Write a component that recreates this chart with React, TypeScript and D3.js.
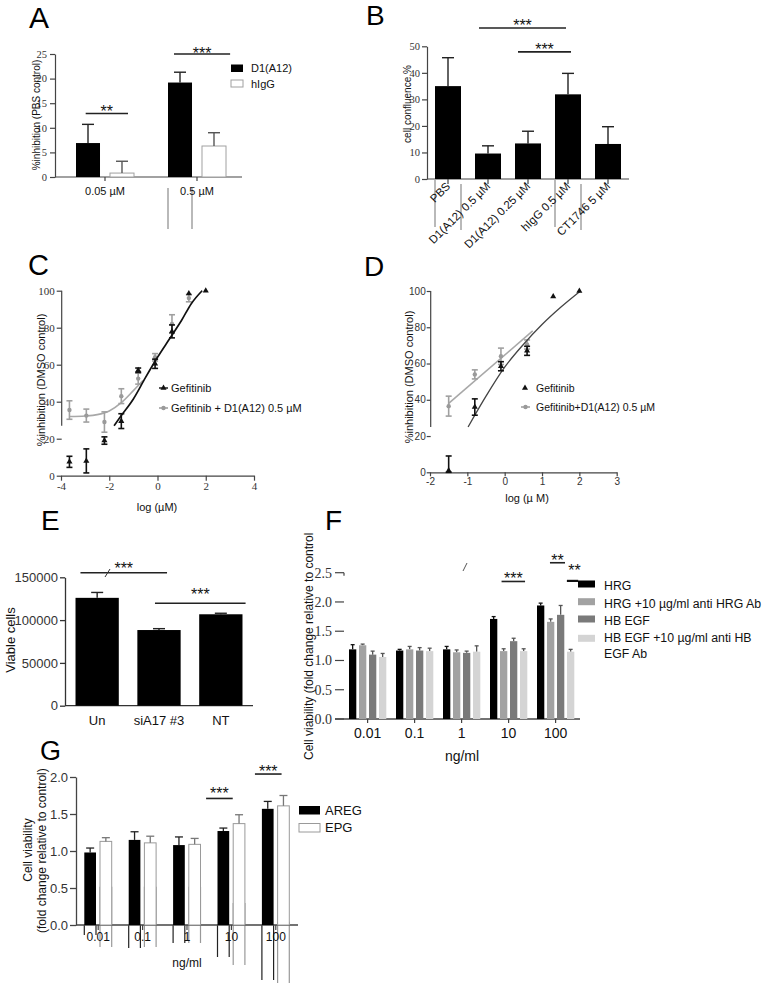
import React, { useEffect, useRef } from 'react';
import * as d3 from 'd3';

const SANS = '"Liberation Sans", Arial, Helvetica, sans-serif';
const SERIF = '"Liberation Serif", "Times New Roman", serif';

// ---- A: %inhibition (PBS control)
const aGroups = ['0.05 µM', '0.5 µM'];
const aSeries = ['D1(A12)', 'hIgG'];
const aD1 = [6.9, 19.2];
const aD1Err = [3.8, 2.1];
const aIgG = [0.8, 6.3];
const aIgGErr = [2.4, 2.7];

// ---- B: cell confluence %
const bLabels = ['PBS', 'D1(A12) 0.5 µM', 'D1(A12) 0.25 µM', 'hIgG 0.5 µM', 'CT1746 5 µM'];
const bValues = [35.0, 9.6, 13.4, 31.9, 13.2];
const bErr = [10.7, 2.9, 4.6, 7.9, 6.5];

// ---- C: dose response, log(µM)
const cDoses = [-3.65, -2.95, -2.2, -1.5, -0.8, -0.1, 0.6, 1.3, 2.0];
const cGef = [7.5, 8, 19, 29.5, 57, 60.5, 78, 98.5, 100];
const cGefErr = [3, 6.5, 2, 4, 1.2, 2.5, 3.5, 0, 0];
const cCombo = [35.5, 32.5, 29, 43, 52.5, 64, 82, 96];
const cComboErr = [5, 3.5, 5.5, 4, 3, 2, 5, 2];
const cGefFit: [number, number][] = [[-1.8, 27], [-1.5, 32.5], [-1.0, 41.5], [-0.5, 53], [0, 64], [0.5, 74], [1.0, 84], [1.4, 93], [1.85, 100]];
const cComboFit: [number, number][] = [[-3.65, 32], [-3, 32.3], [-2.5, 33], [-2, 35], [-1.5, 39.5], [-1, 46], [-0.6, 51.5]];

// ---- D: dose response, log(µM)
const dDoses = [-1.5, -0.8, -0.1, 0.6, 1.3, 2.0];
const dGef = [1, 36, 58.5, 67, 97, 100];
const dGefErr = [8, 4.5, 2.5, 2.5, 0, 0];
const dCombo = [36.5, 54, 64, 70.5];
const dComboErr = [5.5, 2.5, 4.5, 2.5];
const dGefFit: [number, number][] = [[-0.98, 25], [-0.5, 42], [0, 58], [0.5, 70.5], [1, 81.5], [1.5, 91], [2.03, 100]];
const dComboFit: [number, number][] = [[-1.5, 38], [0.75, 78]];

// ---- E: viable cells
const eLabels = ['Un', 'siA17 #3', 'NT'];
const eValues = [126000, 88400, 106800];
const eErr = [6300, 1600, 1200];

// ---- F: cell viability, ng/ml
const fGroups = ['0.01', '0.1', '1', '10', '100'];
const fSeries = ['HRG', 'HRG +10 µg/ml anti HRG Ab', 'HB EGF', 'HB EGF +10 µg/ml anti HB EGF Ab'];
const fHRG = [1.19, 1.17, 1.19, 1.71, 1.94];
const fHRGErr = [0.08, 0.02, 0.05, 0.04, 0.04];
const fHRGAb = [1.26, 1.19, 1.14, 1.16, 1.66];
const fHRGAbErr = [0.02, 0.05, 0.04, 0.04, 0.05];
const fHBEGF = [1.10, 1.17, 1.13, 1.33, 1.78];
const fHBEGFErr = [0.06, 0.05, 0.03, 0.05, 0.16];
const fHBEGFAb = [1.06, 1.16, 1.15, 1.16, 1.15];
const fHBEGFAbErr = [0.06, 0.05, 0.10, 0.04, 0.04];
const fColors = ['#000000', '#a2a2a2', '#7a7a7a', '#d4d4d4'];

// ---- G: cell viability, ng/ml
const gGroups = ['0.01', '0.1', '1', '10', '100'];
const gSeries = ['AREG', 'EPG'];
const gAREG = [0.98, 1.15, 1.08, 1.27, 1.57];
const gAREGErr = [0.06, 0.11, 0.11, 0.04, 0.10];
const gEPG = [1.13, 1.11, 1.09, 1.37, 1.61];
const gEPGErr = [0.05, 0.09, 0.08, 0.12, 0.14];

type Sel = d3.Selection<SVGGElement, unknown, null, undefined>;

function line(g: Sel, x1: number, y1: number, x2: number, y2: number, stroke = '#222', w = 1.2) {
  g.append('line').attr('x1', x1).attr('y1', y1).attr('x2', x2).attr('y2', y2)
    .attr('stroke', stroke).attr('stroke-width', w);
}

function txt(g: Sel, x: number, y: number, s: string, size: number, opts: any = {}) {
  return g.append('text').attr('x', x).attr('y', y)
    .attr('font-family', opts.font || SANS).attr('font-size', size)
    .attr('fill', opts.fill || '#111').attr('text-anchor', opts.anchor || 'start').text(s);
}

function vtxt(g: Sel, x: number, y: number, s: string, size: number, anchor = 'middle') {
  g.append('text').attr('transform', `translate(${x},${y}) rotate(-90)`)
    .attr('font-family', SANS).attr('font-size', size).attr('fill', '#111')
    .attr('text-anchor', anchor).text(s);
}

function errUp(g: Sel, x: number, y0: number, y1: number, cap: number, stroke = '#111', w = 1.4) {
  line(g, x, y0, x, y1, stroke, w);
  line(g, x - cap / 2, y1, x + cap / 2, y1, stroke, w);
}

function errBoth(g: Sel, x: number, yLo: number, yHi: number, cap: number, stroke: string, w = 1.5) {
  line(g, x, yLo, x, yHi, stroke, w);
  line(g, x - cap / 2, yLo, x + cap / 2, yLo, stroke, w);
  line(g, x - cap / 2, yHi, x + cap / 2, yHi, stroke, w);
}

function sig(g: Sel, x1: number, x2: number, y: number, s: string, dy: number, size = 16) {
  line(g, x1, y, x2, y, '#222', 1.6);
  txt(g, (x1 + x2) / 2, y + dy, s, size, { anchor: 'middle' });
}

function styleAxis(a: Sel, font: string, size: number, color = '#333', w = 1.2) {
  a.attr('font-family', font).attr('font-size', size);
  a.selectAll('.domain').attr('stroke', color).attr('stroke-width', w);
  a.selectAll('.tick line').attr('stroke', color).attr('stroke-width', w);
  a.selectAll('.tick text').attr('fill', '#333');
}

function panelLetter(g: Sel, x: number, y: number, s: string, size = 29) {
  txt(g, x, y, s, size, { fill: '#000' });
}

function drawA(g: Sel) {
  const x0 = d3.scaleBand<string>().domain(aGroups).range([59, 243]);
  const x1 = d3.scaleBand<string>().domain(aSeries).range([17, 75]).paddingInner(0.294);
  const y = d3.scaleLinear().domain([0, 25]).range([177, 54]);
  const bw = x1.bandwidth();

  panelLetter(g, 29, 28, 'A', 30);

  // scan artefact: bar edges run below the axis
  const ex = x0(aGroups[1])! + x1(aSeries[0])!;
  [ex, ex + bw].forEach(px => line(g, px, 188, px, 229, '#8a8a8a', 1.2));

  const ya = g.append('g').attr('transform', 'translate(55,0)')
    .call(d3.axisLeft(y).tickValues([0, 5, 10, 15, 20, 25]).tickSize(5).tickSizeOuter(0).tickPadding(3)) as any;
  styleAxis(ya, SERIF, 10.5, '#444');
  line(g, 55, y(0), 242, y(0), '#444', 1.2);
  aGroups.forEach(k => {
    const cx = x0(k)! + x0.bandwidth() / 2;
    line(g, cx, y(0), cx, y(0) + 4, '#444', 1.2);
    txt(g, cx, 195, k, 11, { anchor: 'middle' });
  });

  aGroups.forEach((k, i) => {
    const xa = x0(k)! + x1(aSeries[0])!;
    errUp(g, xa + bw / 2, y(aD1[i]), y(aD1[i] + aD1Err[i]), 12, '#222', 1.4);
    g.append('rect').attr('x', xa).attr('y', y(aD1[i])).attr('width', bw)
      .attr('height', y(0) - y(aD1[i])).attr('fill', '#000');
    const xb = x0(k)! + x1(aSeries[1])!;
    g.append('rect').attr('x', xb).attr('y', y(aIgG[i])).attr('width', bw)
      .attr('height', y(0) - y(aIgG[i])).attr('fill', '#fff').attr('stroke', '#a0a0a0').attr('stroke-width', 1);
    errUp(g, xb + bw / 2, y(aIgG[i]), y(aIgG[i] + aIgGErr[i]), 12, '#555', 1.4);
  });

  const step = x0.step();
  sig(g, x0(aGroups[0])! + 0.29 * step, x0(aGroups[0])! + 0.75 * step, y(12.9), '**', 3.5);
  sig(g, x0(aGroups[1])! + 0.25 * step, x0(aGroups[1])! + 0.86 * step, y(25), '***', 5);

  // legend
  g.append('rect').attr('x', 231).attr('y', 64.5).attr('width', 12).attr('height', 7.5).attr('fill', '#000');
  txt(g, 251, 72, aSeries[0], 11);
  g.append('rect').attr('x', 231).attr('y', 80).attr('width', 12).attr('height', 7)
    .attr('fill', '#fff').attr('stroke', '#a0a0a0').attr('stroke-width', 1);
  txt(g, 251, 88, aSeries[1], 11);

  vtxt(g, 40, 115, '%inhibition (PBS control)', 10);
}

function drawB(g: Sel) {
  const x = d3.scaleBand<string>().domain(bLabels).range([427, 629]).paddingInner(0.35).paddingOuter(0.2);
  const y = d3.scaleLinear().domain([0, 50]).range([179, 46.3]);
  const bw = x.bandwidth();

  panelLetter(g, 366, 25, 'B', 28);

  // scan artefact lines under PBS and hIgG bars
  [bLabels[0], bLabels[3]].forEach(k => {
    line(g, x(k)!, 180, x(k)!, 227, '#8a8a8a', 1.2);
    line(g, x(k)! + bw, 184, x(k)! + bw, 230, '#8a8a8a', 1.2);
  });

  const ya = g.append('g').attr('transform', 'translate(427,0)')
    .call(d3.axisLeft(y).tickValues([0, 10, 20, 30, 40, 50]).tickSize(5).tickSizeOuter(0).tickPadding(2)) as any;
  styleAxis(ya, SERIF, 10.5, '#444');
  line(g, 427, y(0), 629, y(0), '#444', 1.2);

  bLabels.forEach((k, i) => {
    const cx = x(k)! + bw / 2;
    errUp(g, cx, y(bValues[i]), y(bValues[i] + bErr[i]), 12, '#222', 1.4);
    g.append('rect').attr('x', x(k)!).attr('y', y(bValues[i])).attr('width', bw)
      .attr('height', y(0) - y(bValues[i])).attr('fill', '#000');
    line(g, cx, y(0), cx, y(0) + 5, '#444', 1.2);
    g.append('text').attr('transform', `translate(${cx + 3},${187}) rotate(-45)`)
      .attr('text-anchor', 'end').attr('font-family', SANS).attr('font-size', 11.5)
      .attr('fill', '#111').text(k);
  });

  const cx = (i: number) => x(bLabels[0])! + bw / 2 + i * x.step();
  sig(g, cx(0.775), cx(2.95), y(56.9), '***', 3);
  sig(g, cx(1.75), cx(3.075), y(47.9), '***', 3);

  vtxt(g, 411, 104, 'cell confluence %', 10);
}

function drawC(g: Sel) {
  const x = d3.scaleLinear().domain([-4, 4]).range([61, 254]);
  const y = d3.scaleLinear().domain([0, 100]).range([475.7, 290.7]);

  panelLetter(g, 28, 275, 'C', 29);

  const xa = g.append('g').attr('transform', `translate(0,${y(0)})`)
    .call(d3.axisBottom(x).tickValues([-4, -2, 0, 2, 4]).tickFormat((d: any) => String(d)).tickSize(5).tickSizeOuter(0).tickPadding(2)) as any;
  styleAxis(xa, SERIF, 11, '#444');
  const ya = g.append('g').attr('transform', `translate(${x(-4) + 0.7},0)`)
    .call(d3.axisLeft(y).tickValues([0, 20, 40, 60, 80, 100]).tickSize(5).tickSizeOuter(0).tickPadding(2)) as any;
  styleAxis(ya, SERIF, 11, '#444');
  ya.select('.domain').remove();
  line(g, x(-4) + 0.7, y(100), x(-4) + 0.7, y(27), '#444', 1.2);

  const path = d3.line<[number, number]>().x(d => x(d[0])).y(d => y(d[1])).curve(d3.curveMonotoneX);
  g.append('path').attr('d', path(cComboFit)).attr('fill', 'none').attr('stroke', '#a8a8a8').attr('stroke-width', 1.6);

  cCombo.forEach((v, i) => {
    const px = x(cDoses[i]);
    if (cComboErr[i] > 0) errBoth(g, px, y(v - cComboErr[i]), y(v + cComboErr[i]), 6, '#a0a0a0', 1.6);
    g.append('circle').attr('cx', px).attr('cy', y(v)).attr('r', 2.2).attr('fill', '#9a9a9a');
  });

  g.append('path').attr('d', path(cGefFit)).attr('fill', 'none').attr('stroke', '#111').attr('stroke-width', 1.7);
  const tri = d3.symbol().type(d3.symbolTriangle).size(16);
  cGef.forEach((v, i) => {
    const px = x(cDoses[i]);
    if (cGefErr[i] > 0) errBoth(g, px, y(v - cGefErr[i]), y(v + cGefErr[i]), 6, '#111', 1.6);
    g.append('path').attr('d', tri()).attr('transform', `translate(${px},${y(v)})`).attr('fill', '#111');
  });

  // legend
  line(g, 159, 388, 168, 388, '#111', 1.4);
  g.append('path').attr('d', tri()).attr('transform', 'translate(163.5,388)').attr('fill', '#111');
  txt(g, 171, 392, 'Gefitinib', 11);
  line(g, 159, 408, 168, 408, '#a0a0a0', 1.6);
  g.append('circle').attr('cx', 163.5).attr('cy', 408).attr('r', 2.2).attr('fill', '#9a9a9a');
  txt(g, 171, 412, 'Gefitinib + D1(A12) 0.5 µM', 11);

  vtxt(g, 45, 380, '%inhibition (DMSO control)', 11);
  txt(g, 157, 511, 'log (µM)', 11, { anchor: 'middle' });
}

function drawD(g: Sel) {
  const x = d3.scaleLinear().domain([-2, 3]).range([430, 616.7]);
  const y = d3.scaleLinear().domain([0, 100]).range([472.3, 291]);

  panelLetter(g, 364, 276, 'D', 28);

  const xa = g.append('g').attr('transform', `translate(0,${y(0)})`)
    .call(d3.axisBottom(x).tickValues([-2, -1, 0, 1, 2, 3]).tickFormat((d: any) => String(d)).tickSize(4).tickSizeOuter(0).tickPadding(2)) as any;
  styleAxis(xa, SANS, 10, '#444');
  const ya = g.append('g').attr('transform', `translate(${x(-2) + 0.7},0)`)
    .call(d3.axisLeft(y).tickValues([0, 20, 40, 60, 80, 100]).tickSize(4).tickSizeOuter(0).tickPadding(1)) as any;
  styleAxis(ya, SANS, 10, '#444');
  ya.select('.domain').remove();
  line(g, x(-2) + 0.7, y(100), x(-2) + 0.7, y(25), '#444', 1.2);

  const path = d3.line<[number, number]>().x(d => x(d[0])).y(d => y(d[1])).curve(d3.curveMonotoneX);
  g.append('path').attr('d', path(dComboFit)).attr('fill', 'none').attr('stroke', '#a8a8a8').attr('stroke-width', 1.6);
  dCombo.forEach((v, i) => {
    const px = x(dDoses[i]);
    errBoth(g, px, y(v - dComboErr[i]), y(v + dComboErr[i]), 6, '#a0a0a0', 1.6);
    g.append('circle').attr('cx', px).attr('cy', y(v)).attr('r', 2.2).attr('fill', '#9a9a9a');
  });

  g.append('path').attr('d', path(dGefFit)).attr('fill', 'none').attr('stroke', '#444').attr('stroke-width', 1.3);
  const tri = d3.symbol().type(d3.symbolTriangle).size(16);
  dGef.forEach((v, i) => {
    const px = x(dDoses[i]);
    if (dGefErr[i] > 0) errBoth(g, px, y(Math.max(0, v - dGefErr[i])), y(v + dGefErr[i]), 6, '#111', 1.6);
    g.append('path').attr('d', tri()).attr('transform', `translate(${px},${y(v)})`).attr('fill', '#111');
  });

  g.append('path').attr('d', tri()).attr('transform', 'translate(525,388)').attr('fill', '#111');
  txt(g, 536, 392, 'Gefitinib', 10.5);
  line(g, 521, 407, 530, 407, '#a0a0a0', 1.6);
  g.append('circle').attr('cx', 525.5).attr('cy', 407).attr('r', 2.2).attr('fill', '#9a9a9a');
  txt(g, 536, 411, 'Gefitinib+D1(A12) 0.5 µM', 10.5);

  vtxt(g, 413, 377, '%inhibition (DMSO control)', 11);
  txt(g, 527, 502, 'log (µ M)', 11, { anchor: 'middle' });
}

function drawE(g: Sel) {
  const x = d3.scaleBand<string>().domain(eLabels).range([65, 253]).paddingInner(0.3).paddingOuter(0.17);
  const y = d3.scaleLinear().domain([0, 150000]).range([705.7, 577.3]);
  const bw = x.bandwidth();

  panelLetter(g, 41, 530, 'E', 28);

  const ya = g.append('g').attr('transform', 'translate(65,0)')
    .call(d3.axisLeft(y).tickValues([0, 50000, 100000, 150000]).tickFormat(d3.format('d')).tickSize(5).tickSizeOuter(0).tickPadding(2)) as any;
  styleAxis(ya, SANS, 13, '#333', 1.3);
  line(g, 65, y(0), 253, y(0), '#333', 1.3);

  eLabels.forEach((k, i) => {
    const cx = x(k)! + bw / 2;
    errUp(g, cx, y(eValues[i]), y(eValues[i] + eErr[i]), 12, '#222', 1.4);
    g.append('rect').attr('x', x(k)!).attr('y', y(eValues[i])).attr('width', bw)
      .attr('height', y(0) - y(eValues[i])).attr('fill', '#000');
    txt(g, cx, 725, k, 13, { anchor: 'middle' });
  });

  const cx = (i: number) => x(eLabels[0])! + bw / 2 + i * x.step();
  sig(g, cx(-0.27), cx(1.13), y(155370), '***', 1.5);
  line(g, 105, 577, 110, 569, '#333', 1);
  sig(g, cx(0.935), cx(2.4), y(119630), '***', -3);

  vtxt(g, 15, 640, 'Viable cells', 13);
}

function drawF(g: Sel) {
  const x0 = d3.scaleBand<string>().domain(fGroups).range([347, 582]);
  const x1 = d3.scaleBand<string>().domain(fSeries).range([2, 39.3]).paddingInner(0.27);
  const y = d3.scaleLinear().domain([0, 2.5]).range([719, 572.7]);
  const bw = x1.bandwidth();
  const vals = [fHRG, fHRGAb, fHBEGF, fHBEGFAb];
  const errs = [fHRGErr, fHRGAbErr, fHBEGFErr, fHBEGFAbErr];

  panelLetter(g, 325, 530, 'F', 28);

  // y ticks drawn as detached dashes (no axis line in the source)
  [0, 0.5, 1, 1.5, 2, 2.5].forEach(v => {
    txt(g, 332, y(v) + 5, d3.format('.1f')(v), 14, { anchor: 'end', font: SERIF, fill: '#333' });
    line(g, 335, y(v), 344, y(v), '#444', 1.2);
  });
  line(g, 344, y(2.5), 344, y(2.5) + 3, '#444', 1.2);
  line(g, 335, y(0), 580, y(0), '#444', 1.3);

  fGroups.forEach((k, i) => {
    const gx = x0(k)!;
    fSeries.forEach((s, j) => {
      const bx = gx + x1(s)!;
      const v = vals[j][i];
      errUp(g, bx + bw / 2, y(v), y(v + errs[j][i]), 4, j === 0 ? '#111' : '#555', 1.3);
      g.append('rect').attr('x', bx).attr('y', y(v)).attr('width', bw)
        .attr('height', y(0) - y(v)).attr('fill', fColors[j]);
    });
    const cx = gx + 20.6;
    line(g, cx, y(0), cx, y(0) + 4, '#444', 1.2);
    txt(g, cx, 738, k, 14, { anchor: 'middle' });
  });
  txt(g, 462, 761, 'ng/ml', 14, { anchor: 'middle' });

  const cx = (i: number) => x0(fGroups[0])! + 20.6 + i * x0.step();
  sig(g, cx(2.85), cx(3.35), y(2.35), '***', 2.5);
  sig(g, cx(3.88), cx(4.2), y(2.67), '**', 3.5);
  line(g, cx(4.24), y(2.36), cx(4.48), y(2.36), '#111', 2.2);
  txt(g, cx(4.4), y(2.36) - 4.5, '**', 16, { anchor: 'middle' });
  line(g, 463, 571, 467, 563, '#555', 1);

  // legend
  const ly = [584, 601.7, 619, 638.3];
  const ty = [589.5, 607.5, 624.5, 642];
  fSeries.forEach((s, j) => {
    g.append('rect').attr('x', 578).attr('y', ly[j] - 3.5).attr('width', 17).attr('height', 7).attr('fill', fColors[j]);
    if (j < 3) txt(g, 604, ty[j], s, 12.3);
  });
  txt(g, 604, ty[3], 'HB EGF +10 µg/ml anti HB', 12.3);
  txt(g, 604, 657.5, 'EGF Ab', 12.3);

  vtxt(g, 313, 760, 'Cell viability (fold change relative to control', 12, 'start');
}

function drawG(g: Sel) {
  const x0 = d3.scaleBand<string>().domain(gGroups).range([76, 298]);
  const x1 = d3.scaleBand<string>().domain(gSeries).range([8.3, 35.7]).paddingInner(0.255);
  const y = d3.scaleLinear().domain([0, 2]).range([925, 777]);
  const bw = x1.bandwidth();

  panelLetter(g, 40, 760, 'G', 27);

  // scan artefact lines below the bars
  const aregDrop = [10, 23, 18, 32, 55];
  const epgTop = [886.7, 886.7, 886.7, 903, 921.7];
  const epgDrop = [22, 22, 18, 40, 58];
  gGroups.forEach((k, i) => {
    const xa = x0(k)! + x1(gSeries[0])!;
    const xb = x0(k)! + x1(gSeries[1])!;
    [xa, xa + bw].forEach(px => line(g, px, y(0), px, y(0) + aregDrop[i], '#222', 1.2));
    [xb, xb + bw].forEach(px => line(g, px, epgTop[i], px, y(0) + epgDrop[i], '#999', 1.2));
  });

  const ya = g.append('g').attr('transform', 'translate(76,0)')
    .call(d3.axisLeft(y).tickValues([0, 0.5, 1, 1.5, 2]).tickFormat(d3.format('.1f')).tickSize(6).tickSizeOuter(0).tickPadding(2)) as any;
  styleAxis(ya, SANS, 13, '#444', 1.3);
  line(g, 76, y(0), 298, y(0), '#444', 1.3);

  gGroups.forEach((k, i) => {
    const xa = x0(k)! + x1(gSeries[0])!;
    const xb = x0(k)! + x1(gSeries[1])!;
    errUp(g, xa + bw / 2, y(gAREG[i]), y(gAREG[i] + gAREGErr[i]), 8, '#222', 1.3);
    g.append('rect').attr('x', xa).attr('y', y(gAREG[i])).attr('width', bw)
      .attr('height', y(0) - y(gAREG[i])).attr('fill', '#000');
    g.append('rect').attr('x', xb).attr('y', y(gEPG[i])).attr('width', bw)
      .attr('height', y(0) - y(gEPG[i])).attr('fill', '#fff').attr('stroke', '#9a9a9a').attr('stroke-width', 1);
    errUp(g, xb + bw / 2, y(gEPG[i]), y(gEPG[i] + gEPGErr[i]), 8, '#777', 1.3);
    const cx = x0(k)! + x0.bandwidth() / 2;
    line(g, cx, y(0), cx, y(0) + 5, '#444', 1.2);
    txt(g, cx, 941, k, 12, { anchor: 'middle' });
  });
  txt(g, 187, 967, 'ng/ml', 12, { anchor: 'middle' });

  const cx = (i: number) => x0(gGroups[0])! + x0.bandwidth() / 2 + i * x0.step();
  sig(g, cx(2.43), cx(3.03), y(1.71), '***', 0.6);
  sig(g, cx(3.53), cx(4.13), y(2.04), '***', 3);

  g.append('rect').attr('x', 299).attr('y', 806).attr('width', 21).attr('height', 8.5).attr('fill', '#000');
  txt(g, 325, 815, gSeries[0], 13);
  g.append('rect').attr('x', 299).attr('y', 823.5).attr('width', 21).attr('height', 8.5)
    .attr('fill', '#fff').attr('stroke', '#9a9a9a').attr('stroke-width', 1);
  txt(g, 325, 832, gSeries[1], 13);

  vtxt(g, 32, 850, 'Cell viability', 12);
  vtxt(g, 46, 933, '(fold change relative to control)', 12, 'start');
}

export default function App() {
  const ref = useRef<SVGSVGElement>(null);
  useEffect(() => {
    const svg = d3.select(ref.current);
    svg.selectAll('*').remove();
    svg.append('rect').attr('width', 769).attr('height', 985).attr('fill', '#fff');
    drawA(svg.append('g') as any);
    drawB(svg.append('g') as any);
    drawC(svg.append('g') as any);
    drawD(svg.append('g') as any);
    drawE(svg.append('g') as any);
    drawF(svg.append('g') as any);
    drawG(svg.append('g') as any);
  }, []);
  return (
    <svg ref={ref} width={769} height={985}
      style={{ position: 'absolute', left: 0, top: 0, display: 'block' }} />
  );
}
